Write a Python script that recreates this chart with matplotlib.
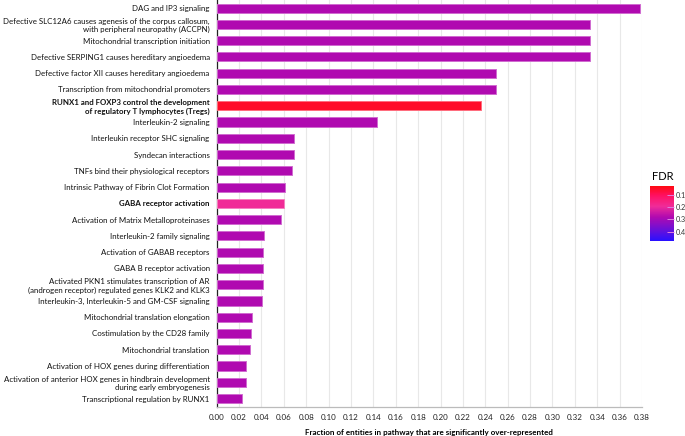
import matplotlib
matplotlib.use("Agg")
import matplotlib.pyplot as plt
import numpy as np
from matplotlib.colors import LinearSegmentedColormap, Normalize

plt.rcParams['font.family'] = ['Lato', 'DejaVu Sans']

pathways = [
    "DAG and IP3 signaling",
    "Defective SLC12A6 causes agenesis of the corpus callosum,\nwith peripheral neuropathy (ACCPN)",
    "Mitochondrial transcription initiation",
    "Defective SERPING1 causes hereditary angioedema",
    "Defective factor XII causes hereditary angioedema",
    "Transcription from mitochondrial promoters",
    "RUNX1 and FOXP3 control the development\nof regulatory T lymphocytes (Tregs)",
    "Interleukin-2 signaling",
    "Interleukin receptor SHC signaling",
    "Syndecan interactions",
    "TNFs bind their physiological receptors",
    "Intrinsic Pathway of Fibrin Clot Formation",
    "GABA receptor activation",
    "Activation of Matrix Metalloproteinases",
    "Interleukin-2 family signaling",
    "Activation of GABAB receptors",
    "GABA B receptor activation",
    "Activated PKN1 stimulates transcription of AR\n(androgen receptor) regulated genes KLK2 and KLK3",
    "Interleukin-3, Interleukin-5 and GM-CSF signaling",
    "Mitochondrial translation elongation",
    "Costimulation by the CD28 family",
    "Mitochondrial translation",
    "Activation of HOX genes during differentiation",
    "Activation of anterior HOX genes in hindbrain development\nduring early embryogenesis",
    "Transcriptional regulation by RUNX1",
]
fraction = [0.378, 0.334, 0.334, 0.334, 0.250, 0.250, 0.236, 0.143,
            0.069, 0.069, 0.067, 0.061, 0.060, 0.0575, 0.0425, 0.041,
            0.041, 0.041, 0.0405, 0.032, 0.031, 0.0295, 0.026, 0.026, 0.023]
fdr = [0.28, 0.28, 0.28, 0.28, 0.28, 0.28, 0.05, 0.28,
       0.28, 0.28, 0.28, 0.28, 0.19, 0.28, 0.28, 0.28,
       0.28, 0.28, 0.28, 0.28, 0.28, 0.28, 0.28, 0.28, 0.28]
bold_labels = ["RUNX1 and FOXP3 control the development\nof regulatory T lymphocytes (Tregs)",
               "GABA receptor activation"]
xticks = [round(0.02 * i, 2) for i in range(20)]
fdr_ticks = [0.1, 0.2, 0.3, 0.4]

vmin, vmax = 0.027, 0.473
cmap = LinearSegmentedColormap.from_list(
    "fdr", [(0.0, "#FF0A10"), (0.17, "#FF1060"), (0.37, "#F02C98"),
            (0.57, "#B00AB0"), (0.80, "#6A10D8"), (1.0, "#2A10FF")])
norm = Normalize(vmin=vmin, vmax=vmax)

fig = plt.figure(figsize=(6.85, 4.36), dpi=100)
ax = fig.add_axes([0.3163, 0.0672, 0.6209, 0.9328])

y = np.arange(len(pathways))
colors = [cmap(norm(v)) for v in fdr]
edges = [tuple(0.6 * np.array(c[:3]) + 0.4) for c in colors]
ax.barh(y, fraction, height=0.56, color=colors, edgecolor=edges, linewidth=0.7, zorder=3)

ax.set_ylim(len(pathways) - 0.5, -0.5)
ax.set_xlim(0, 0.38)
ax.set_yticks(y)
ax.set_yticklabels(pathways, fontsize=5.7, linespacing=1.2, color="#111111")
for lab in ax.get_yticklabels():
    if lab.get_text() in bold_labels:
        lab.set_fontweight("bold")
ax.set_xticks(xticks)
ax.set_xticklabels([f"{t:.2f}" for t in xticks], fontsize=5.8, color="#222222")
ax.tick_params(axis="y", length=0, pad=5)
ax.tick_params(axis="x", length=0, pad=5)
ax.grid(axis="x", color="#E8E8E8", linewidth=0.8, zorder=0)
ax.set_axisbelow(True)
for s in ["top", "right"]:
    ax.spines[s].set_visible(False)
ax.spines["left"].set_color("#222222")
ax.spines["left"].set_linewidth(0.9)
ax.spines["bottom"].set_color("#BBBBBB")
ax.spines["bottom"].set_linewidth(0.9)
ax.set_xlabel("Fraction of entities in pathway that are significantly over-represented",
              fontsize=5.8, fontweight="bold", labelpad=6)

cax = fig.add_axes([0.9494, 0.448, 0.035, 0.1255])
sm = matplotlib.cm.ScalarMappable(norm=norm, cmap=cmap)
cb = fig.colorbar(sm, cax=cax)
cb.outline.set_visible(False)
cax.invert_yaxis()
cb.set_ticks(fdr_ticks)
cb.set_ticklabels([str(t) for t in fdr_ticks])
cax.tick_params(labelsize=5.2, labelcolor="#333333", length=5, direction="in",
                color="#E080E0", pad=1.2, width=0.7)
cax.set_title("FDR", fontsize=8, pad=4)

fig.savefig("out.png", dpi=100)
